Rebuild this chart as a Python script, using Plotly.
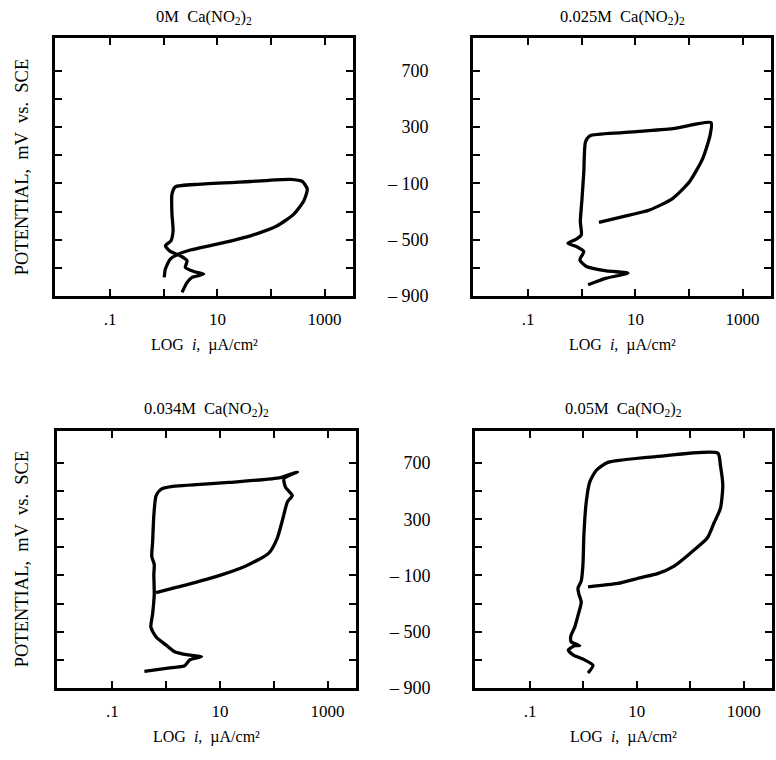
import plotly.graph_objects as go

# ---- data: current density (uA/cm2) and potential (mV vs SCE) ----
titles = ["0M  Ca(NO<sub>2</sub>)<sub>2</sub>", "0.025M  Ca(NO<sub>2</sub>)<sub>2</sub>",
          "0.034M  Ca(NO<sub>2</sub>)<sub>2</sub>", "0.05M  Ca(NO<sub>2</sub>)<sub>2</sub>"]

i_0M = [2.19, 2.72, 3.37, 5.55, 3.61, 2.52, 2.72, 2.03, 1.32, 1.07, 1.36, 1.49, 1.42, 1.42, 1.64,
        4.81, 41.4, 231, 383, 475, 410, 267, 131, 41.4, 9.86, 3.13, 1.89, 1.32, 1.07, 1.02]
E_0M = [-874, -803, -767, -744, -725, -696, -649, -614, -583, -543, -507, -436, -318, -176, -124,
        -105, -86, -71, -86, -140, -223, -318, -401, -472, -531, -573, -602, -637, -708, -767]

i_025M = [1.31, 2.88, 7.25, 2.88, 1.22, 0.92, 1.09, 0.79, 0.55, 0.79, 0.98, 0.94, 1.01, 1.09, 1.17,
          1.41, 5.85, 49.9, 258, 247, 180, 102, 49.9, 18.4, 5.85, 2.09]
E_025M = [-820, -773, -737, -721, -690, -643, -584, -548, -525, -496, -466, -371, -206, -17, 195,
          238, 261, 289, 332, 242, 77, -88, -206, -289, -336, -376]

i_034M = [0.394, 1.08, 2.21, 2.75, 4.54, 2.55, 1.44, 1.0, 0.65, 0.52, 0.56, 0.60, 0.59, 0.60, 0.54,
          0.56, 0.59, 0.65, 0.81, 1.24, 14.4, 134, 275, 155, 166, 221, 179, 148, 116, 81, 29.6,
          6.98, 1.66, 0.65]
E_034M = [-783, -760, -743, -701, -678, -666, -643, -596, -538, -468, -373, -233, -93, -22, 36,
          141, 329, 469, 515, 532, 562, 597, 637, 590, 527, 469, 422, 305, 164, 59, -34,
          -117, -182, -222]

i_05M = [1.22, 1.51, 1.05, 0.64, 0.52, 0.69, 0.85, 0.59, 0.58, 0.69, 0.79, 0.91, 0.82, 0.79, 0.91,
         0.98, 1.02, 1.13, 1.31, 1.73, 2.86, 24.4, 328, 367, 406, 367, 277, 208, 102, 49.9, 24.4,
         11.9, 4.39, 1.22]
E_05M = [-795, -740, -701, -666, -631, -600, -600, -572, -532, -466, -385, -290, -232, -190, -139,
         -21, 190, 424, 564, 647, 705, 747, 771, 682, 541, 377, 272, 166, 61, -33, -87,
         -115, -157, -181]

x_tickvals = [0.1, 10, 1000]
x_ticktext = [".1", "10", "1000"]
x_minor_tickvals = [1, 100]
y_tickvals = [-900, -500, -100, 300, 700]
y_ticktext = ["\u2013 900", "\u2013 500", "\u2013 100", "300", "700"]
y_minor_tickvals = [-700, -300, 100, 500]

series = [(i_0M, E_0M), (i_025M, E_025M), (i_034M, E_034M), (i_05M, E_05M)]

W, H = 776, 760
# panel frames in pixels (left, right, top, bottom)
frames = [(55, 353, 39, 300), (473, 771, 39, 300), (57, 356, 436.5, 697), (475, 772, 436.5, 697)]

FONT = "Liberation Serif"
fig = go.Figure()
layout = dict(width=W, height=H, margin=dict(l=0, r=0, t=0, b=0),
              plot_bgcolor="white", paper_bgcolor="white", showlegend=False,
              font=dict(family=FONT, color="black", size=16))
annotations = []
for k, ((xs, ys), (l, r, t, b)) in enumerate(zip(series, frames)):
    n = "" if k == 0 else str(k + 1)
    fig.add_trace(go.Scatter(x=xs, y=ys, mode="lines", xaxis="x" + n, yaxis="y" + n,
                             line=dict(color="black", width=3.3, shape="spline", smoothing=0.6),
                             hoverinfo="skip"))
    layout["xaxis" + n] = dict(type="log", range=[-2.03, 3.53], domain=[l / W, r / W],
                               anchor="y" + n, tickmode="array", tickvals=x_tickvals,
                               ticktext=x_ticktext,
                               ticks="inside", ticklen=7, tickwidth=2, tickcolor="black",
                               minor=dict(tickmode="array", tickvals=x_minor_tickvals,
                                          ticks="inside", ticklen=7, tickwidth=2,
                                          tickcolor="black", showgrid=False),
                               showline=True, linewidth=3, linecolor="black", mirror="ticks",
                               showgrid=False, zeroline=False, ticklabelstandoff=6,
                               tickfont=dict(family=FONT, size=17))
    ylab = (k % 2 == 1)
    layout["yaxis" + n] = dict(range=[-900, 930], domain=[1 - b / H, 1 - t / H],
                               anchor="x" + n, tickmode="array",
                               tickvals=y_tickvals if ylab else [],
                               ticktext=y_ticktext if ylab else [],
                               ticks="inside", ticklen=7, tickwidth=2, tickcolor="black",
                               minor=dict(tickmode="array",
                                          tickvals=y_minor_tickvals if ylab else sorted(y_minor_tickvals + y_tickvals),
                                          ticks="inside", ticklen=7, tickwidth=2,
                                          tickcolor="black", showgrid=False),
                               showline=True, linewidth=3, linecolor="black", mirror="ticks",
                               showgrid=False, zeroline=False,
                               showticklabels=ylab, ticklabelstandoff=38,
                               tickfont=dict(family=FONT, size=18))
    cx = (l + r) / 2
    annotations.append(dict(text=titles[k], x=cx / W, y=1 - (t - 22) / H, xref="paper", yref="paper",
                            showarrow=False, xanchor="center", yanchor="middle",
                            font=dict(family=FONT, size=16.5)))
    annotations.append(dict(text="LOG  <i>i</i>,  \u00b5A/cm\u00b2", x=cx / W, y=1 - (b + 50) / H,
                            xref="paper", yref="paper", showarrow=False, xanchor="center",
                            yanchor="middle", font=dict(family=FONT, size=16)))
    if k % 2 == 0:
        annotations.append(dict(text="POTENTIAL,  mV  vs.  SCE", x=22 / W, y=1 - ((t + b) / 2) / H,
                                xref="paper", yref="paper", showarrow=False, textangle=-90,
                                xanchor="center", yanchor="middle", font=dict(family=FONT, size=18.5)))
layout["annotations"] = annotations
fig.update_layout(**layout)
fig.write_html("out.html")
